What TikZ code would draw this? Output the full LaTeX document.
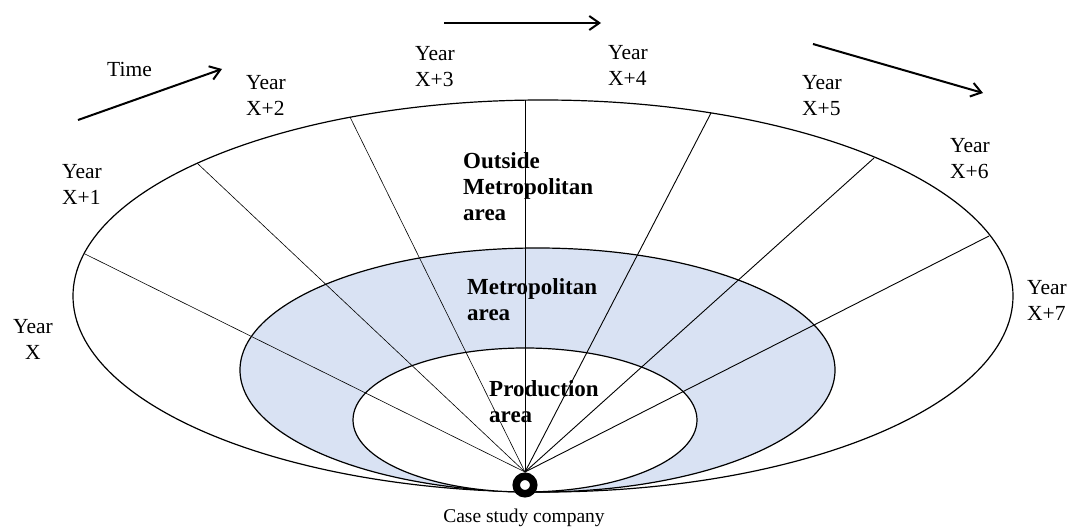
\documentclass[tikz,border=0pt]{standalone}
\usepackage{fontspec}
\setmainfont{Liberation Serif}
\usetikzlibrary{arrows.meta}
\definecolor{metroblue}{HTML}{D9E2F3}
\begin{document}
\begin{tikzpicture}[x=1pt,y=-1pt,
 lbl/.style={font=\fontsize{21.5}{26}\selectfont, inner sep=0pt, align=left, anchor=base west},
 area/.style={font=\bfseries\fontsize{23}{26}\selectfont, inner sep=0pt, align=left, anchor=base west},
 ring/.style={draw, line width=1.2pt},
 spoke/.style={line width=0.9pt},
 thinspoke/.style={line width=0.6pt},
 timearrow/.style={line width=2pt, -{Straight Barb[length=10pt,width=14pt]}}]
\useasboundingbox (0,0) rectangle (1072,527);
% zones
\draw[ring, fill=white] (543,296) ellipse [x radius=470pt, y radius=196pt];
\draw[ring, fill=metroblue] (537.5,370) ellipse [x radius=297.5pt, y radius=122pt];
\draw[ring, fill=white] (525,420) ellipse [x radius=172pt, y radius=72pt];
% spokes
\coordinate (hub) at (525,472);
\coordinate (s1) at (85,254);
\coordinate (s2) at (197,163);
\coordinate (s3) at (350,117);
\coordinate (s4) at (525,100);
\coordinate (s5) at (711,113);
\coordinate (s6) at (874,158);
\coordinate (s7) at (989,236);
\draw[thinspoke] (hub) -- (s1);
\draw[thinspoke] (hub) -- (s2);
\draw[thinspoke] (hub) -- (s3);
\draw[spoke] (hub) -- (s4);
\draw[spoke] (hub) -- (s5);
\draw[spoke] (hub) -- (s6);
\draw[spoke] (hub) -- (s7);
% company
\node[circle, draw, line width=7.5pt, fill=white, minimum size=17.5pt, inner sep=0pt] (company) at (525,485) {};
\node[lbl, font=\fontsize{19.5}{24}\selectfont, anchor=base] (companylbl) at (524,522) {Case study company};
% area labels (anchor = baseline of last line)
\node[area] (outside) at (463,220) {Outside\\Metropolitan\\area};
\node[area] (metro) at (467,320) {Metropolitan\\area};
\node[area] (prod) at (489,422) {Production\\area};
% year labels
\node[lbl, align=center, anchor=base] (yx) at (33,359) {Year\\X};
\node[lbl] (y1) at (62,204) {Year\\X+1};
\node[lbl] (y2) at (246,115) {Year\\X+2};
\node[lbl] (y3) at (415,87) {Year\\X+3};
\node[lbl] (y4) at (608,86) {Year\\X+4};
\node[lbl] (y5) at (802,116) {Year\\X+5};
\node[lbl] (y6) at (950,178) {Year\\X+6};
\node[lbl] (y7) at (1027,320) {Year\\X+7};
% time arrows
\node[lbl] (time) at (107,77) {Time};
\coordinate (a1s) at (78,120);
\coordinate (a1e) at (222,69);
\coordinate (a2s) at (444,23);
\coordinate (a2e) at (601,23);
\coordinate (a3s) at (813,44);
\coordinate (a3e) at (983,93);
\draw[timearrow] (a1s) -- (a1e);
\draw[timearrow] (a2s) -- (a2e);
\draw[timearrow] (a3s) -- (a3e);
\end{tikzpicture}
\end{document}
